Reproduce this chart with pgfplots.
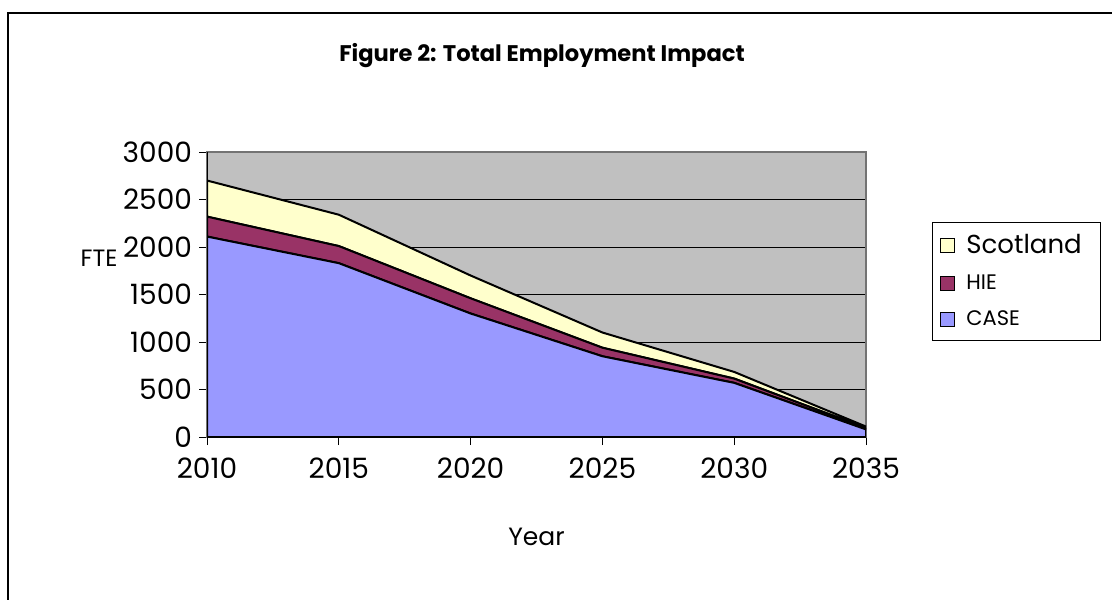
\documentclass[border=0pt]{standalone}
\usepackage{pgfplots}
\pgfplotsset{compat=1.18}
\usepackage{fontspec}
\setmainfont{Poppins}
\definecolor{caseC}{HTML}{9999FF}
\definecolor{hieC}{HTML}{993366}
\definecolor{scoC}{HTML}{FFFFCC}
\definecolor{bgC}{HTML}{C0C0C0}
\begin{document}
\begin{tikzpicture}
\path[use as bounding box] (0pt,0pt) rectangle (556pt,-299.5pt);
\draw[line width=1pt] (4pt,-302pt) -- (4pt,-6.5pt) -- (560pt,-6.5pt);
\node[font=\fontsize{11.3}{13}\selectfont\bfseries] at (271pt,-28pt) {Figure 2: Total Employment Impact};
\node[font=\fontsize{11.8}{14}\selectfont] at (49.5pt,-129pt) {FTE};
\node[font=\fontsize{12.5}{14}\selectfont] at (268.25pt,-268.5pt) {Year};
\begin{axis}[
  at={(103.5pt,-218.5pt)}, anchor=south west,
  scale only axis, width=329.5pt, height=142.5pt,
  xmin=2010, xmax=2035, ymin=0, ymax=3000,
  xtick={2010,2015,2020,2025,2030,2035},
  ytick={0,500,1000,1500,2000,2500,3000},
  xtick pos=left, ytick pos=left,
  tick align=outside, major tick length=4pt,
  tick style={black, line width=0.5pt},
  ymajorgrids, grid style={black, line width=0.5pt},
  axis background/.style={fill=bgC},
  axis line style={draw=gray!90!black, line width=0.6pt},
  /pgf/number format/assume math mode=true,
  /pgf/number format/1000 sep={},
  ticklabel style={font=\fontsize{14}{16}\selectfont},
  xticklabel style={yshift=-3pt},
  stack plots=y,
  reverse legend,
  legend style={at={(1.100,0.754)}, anchor=north west, draw=black, line width=0.5pt,
    fill=white, inner xsep=3pt, inner ysep=4pt, row sep=5pt,
    text width=62pt, font=\fontsize{10.5}{12}\selectfont},
  legend cell align=left,
  legend image code/.code={\path[draw=none,fill=none] (-1pt,0pt) -- (11pt,0pt);\draw[#1, line width=0.6pt] (0pt,-3.5pt) rectangle (7pt,3.5pt);},
]
\addplot[fill=caseC, draw=black, line width=1pt] coordinates {
  (2010,2110) (2015,1830) (2020,1300) (2025,850) (2030,570) (2035,80)} \closedcycle;
\addlegendentry{CASE}
\addplot[fill=hieC, draw=black, line width=1pt] coordinates {
  (2010,210) (2015,180) (2020,160) (2025,90) (2030,45) (2035,15)} \closedcycle;
\addlegendentry{HIE}
\addplot[fill=scoC, draw=black, line width=1pt] coordinates {
  (2010,380) (2015,330) (2020,240) (2025,160) (2030,70) (2035,15)} \closedcycle;
\addlegendentry{\fontsize{13}{15}\selectfont Scotland}
\draw[black, line width=0.8pt] (rel axis cs:0,1) -- (rel axis cs:0,0) -- (rel axis cs:1,0);
\end{axis}
\end{tikzpicture}
\end{document}
